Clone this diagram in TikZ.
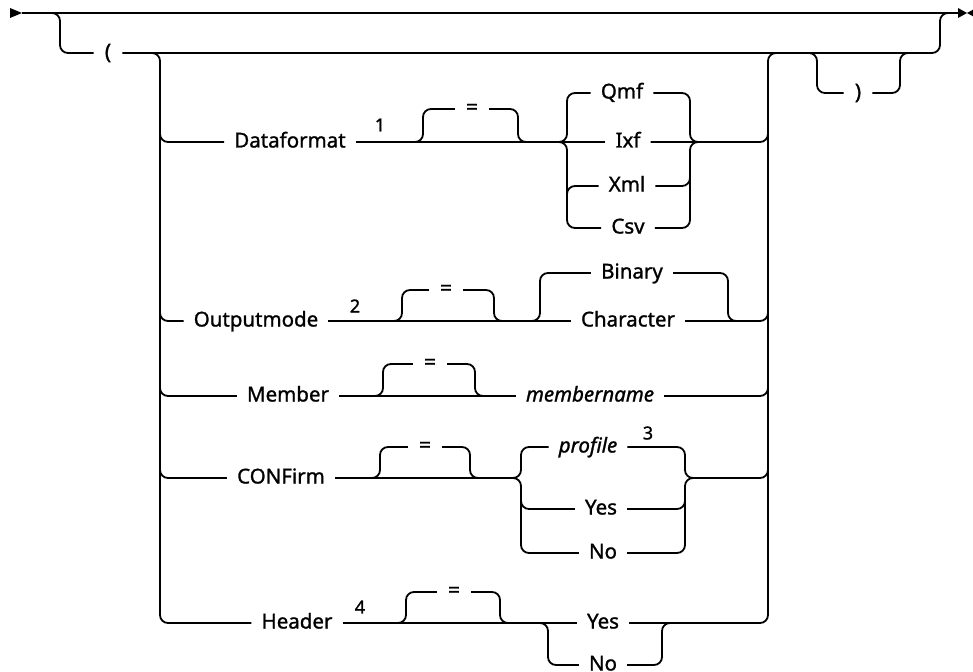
\documentclass[tikz,border=0pt]{standalone}
\usepackage{fontspec}
\setmainfont{Noto Sans}[FakeBold=1.2]
\begin{document}
\begin{tikzpicture}[x=1pt,y=-1pt,
  rr/.style={line width=1.8pt, rounded corners=8pt},
  kwbox/.style={font=\fontsize{20.5}{24}\selectfont, inner xsep=10pt, inner ysep=0pt, text height=11pt, text depth=0pt},
  varbox/.style={kwbox, font=\fontsize{20.5}{24}\selectfont\itshape},
  symbox/.style={font=\fontsize{21}{24}\selectfont, inner xsep=11pt, inner ysep=0pt},
  fnote/.style={font=\fontsize{18}{21}\selectfont, inner sep=0pt},
  tri/.style={fill=black, draw=none}]
\useasboundingbox (0,0) rectangle (973,671);
% nodes
\node[symbox] (lp) at (108,53) {(};
\node[symbox] (rp) at (858,93) {)};
\node[kwbox] (dfmt) at (290,142) {Dataformat};
\node[fnote] (n1) at (380,125) {1};
\node[symbox] (eq1) at (472,109) {=};
\node[kwbox] (qmf) at (622,93) {Qmf};
\node[kwbox] (ixf) at (628,142) {Ixf};
\node[kwbox] (xml) at (627,186) {Xml};
\node[kwbox] (csv) at (628,228) {Csv};
\node[kwbox] (om) at (256,321) {Outputmode};
\node[fnote] (n2) at (355,306) {2};
\node[symbox] (eq2) at (446,290) {=};
\node[kwbox] (bin) at (632,273) {Binary};
\node[kwbox] (chr) at (628,321) {Character};
\node[kwbox] (mem) at (288,396) {Member};
\node[symbox] (eq3) at (430,364) {=};
\node[varbox] (mn) at (590,396) {membername};
\node[kwbox] (conf) at (281,478) {CONFirm};
\node[symbox] (eq4) at (425,447) {=};
\node[varbox] (prof) at (588,447) {profile};
\node[fnote] (n3) at (648,433) {3};
\node[kwbox] (cy) at (601,509) {Yes};
\node[kwbox] (cn) at (603,553) {No};
\node[kwbox] (hdr) at (297,623) {Header};
\node[fnote] (n4) at (360,607) {4};
\node[symbox] (eq5) at (454,592) {=};
\node[kwbox] (hy) at (603,623) {Yes};
\node[kwbox] (hn) at (603,665) {No};
\coordinate (s) at (22,13);
\coordinate (e) at (958,13);
% main line and ends
\draw[rr] (s) -- (e);
\fill[tri] (10,8) -- (s) -- (10,18) -- cycle;
\fill[tri] (e) ++(0,-5) -- (967,13) -- (958,18) -- cycle;
\fill[tri] (973,9.7) -- (967,13) -- (973,16.3) -- cycle;
% parenthesis group
\draw[rr] (40,13) -| (60,53) -- (lp.west);
\draw[rr] (lp.east) -- (940,53) |- (952,13);
\draw[rr] (150,53) -| (160,623) -- (hdr.west);
\draw[rr] (hy.east) -| (768,53) -- (778,53);
\draw[rr] (807,53) -| (817,93) -- (rp.west);
\draw[rr] (rp.east) -| (900,53) -- (910,53);
% Dataformat
\draw[rr] (160,120) |- (dfmt.west);
\draw[rr] (dfmt.east) -- (ixf.west);
\draw[rr] (414,142) -| (423,109) -- (eq1.west);
\draw[rr] (eq1.east) -| (518,142) -- (527,142);
\draw[rr] (557,142) -| (567,93) -- (qmf.west);
\draw[rr] (557,142) -| (567,228) -- (csv.west);
\draw[rr] (567,200) |- (xml.west);
\draw[rr] (qmf.east) -| (690,142) -- (700,142);
\draw[rr] (csv.east) -| (690,142) -- (700,142);
\draw[rr] (xml.east) -| (690,170);
\draw[rr] (ixf.east) -| (768,110);
% Outputmode
\draw[rr] (160,300) |- (om.west);
\draw[rr] (om.east) -- (chr.west);
\draw[rr] (394,321) -| (402,290) -- (eq2.west);
\draw[rr] (eq2.east) -| (494,321) -- (502,321);
\draw[rr] (530,321) -| (540,273) -- (bin.west);
\draw[rr] (bin.east) -| (728,321) -- (738,321);
\draw[rr] (chr.east) -| (768,300);
% Member
\draw[rr] (160,375) |- (mem.west);
\draw[rr] (mem.east) -- (mn.west);
\draw[rr] (375,396) -| (383,364) -- (eq3.west);
\draw[rr] (eq3.east) -| (475,396) -- (483,396);
\draw[rr] (mn.east) -| (768,375);
% CONFirm
\draw[rr] (160,455) |- (conf.west);
\draw[rr] (conf.east) -| (521,447) -- (prof.west);
\draw[rr] (511,478) -| (521,553) -- (cn.west);
\draw[rr] (521,490) |- (cy.west);
\draw[rr] (372,478) -| (380,447) -- (eq4.west);
\draw[rr] (eq4.east) -| (470,478) -- (478,478);
\draw[rr] (prof.east) -| (685,478) -| (768,455);
\draw[rr] (cn.east) -| (685,478) -- (695,478);
\draw[rr] (cy.east) -| (685,495);
% Header
\draw[rr] (hdr.east) -- (hy.west);
\draw[rr] (398,623) -| (406,592) -- (eq5.west);
\draw[rr] (eq5.east) -| (500,623) -- (508,623);
\draw[rr] (538,623) -| (548,665) -- (hn.west);
\draw[rr] (hn.east) -| (662,623) -- (672,623);
\end{tikzpicture}
\end{document}
